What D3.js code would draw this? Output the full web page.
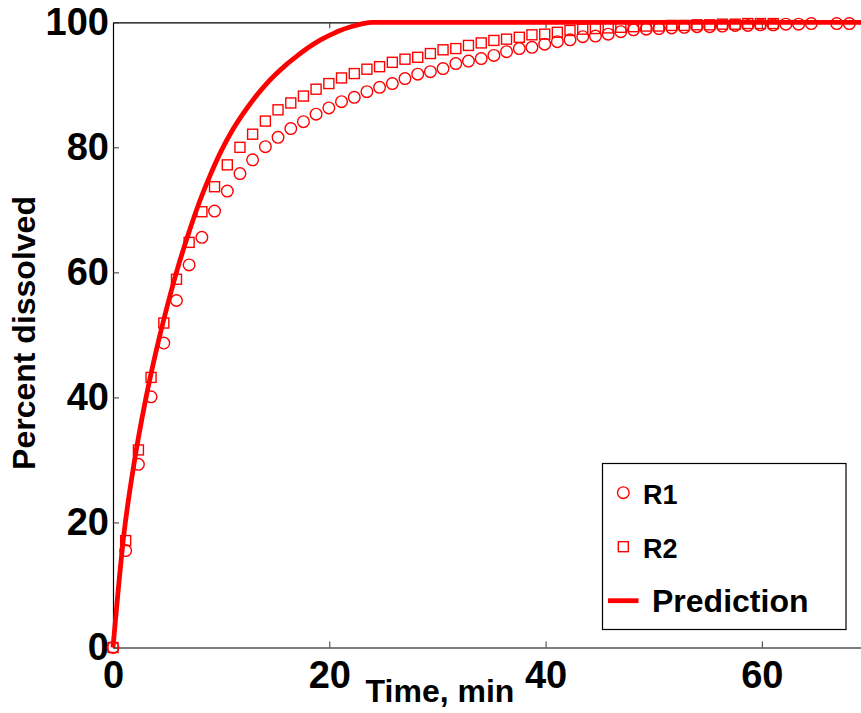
<!DOCTYPE html>
<html><head><meta charset="utf-8">
<script src="https://cdn.jsdelivr.net/npm/d3@7"></script>
<style>
html,body{margin:0;padding:0;background:#fff;}
svg{display:block;font-family:"Liberation Sans",Arial,Helvetica,sans-serif;font-weight:bold;}
</style></head>
<body><svg id="chart" width="861" height="713"></svg>
<script>
// ---- data ----
const times = [0,1.17,2.35,3.52,4.70,5.87,7.04,8.22,9.39,10.57,11.74,12.91,14.09,15.26,16.44,17.61,18.78,19.96,21.13,22.31,23.48,24.65,25.83,27.00,28.18,29.35,30.52,31.70,32.87,34.05,35.22,36.39,37.57,38.74,39.92,41.09,42.26,43.44,44.61,45.79,46.96,48.13,49.31,50.48,51.66,52.83,54.00,55.18,56.35,57.53,58.70,59.87,61.05,62.22,63.40,64.57,65.74,66.92,68.09];
const r1 = [0,15.5,29.3,40.1,48.7,55.5,61.2,65.6,69.8,73.0,75.8,78.0,80.1,81.6,83.0,84.1,85.3,86.3,87.3,88.0,88.9,89.6,90.2,91.0,91.7,92.1,92.6,93.4,93.8,94.2,94.7,95.3,95.8,96.0,96.5,96.9,97.2,97.7,97.8,98.1,98.5,98.8,98.9,99.0,99.1,99.2,99.3,99.3,99.4,99.5,99.5,99.6,99.6,99.7,99.7,99.8,null,99.8,99.8];
const r2 = [0,17.1,31.6,43.2,51.9,58.9,64.8,69.7,73.7,77.2,80.0,82.1,84.2,86.0,87.1,88.2,89.3,90.2,91.1,91.8,92.5,92.9,93.6,94.1,94.4,95.0,95.6,95.8,96.3,96.7,97.1,97.3,97.6,98.0,98.1,98.4,98.7,98.9,99.0,99.1,99.2,99.3,99.4,99.4,99.5,99.5,99.6,99.6,99.7,99.7,99.8,99.8,99.8];
const predT = [0,1,2,3,4,5,6,7,8,9,10,11,12,13,14,15,16,17,18,19,20,21,22,23,24,70];
const predY = [0,18,30,39.5,47.5,54.5,60.8,66.3,71.3,75.6,79.4,82.6,85.3,87.7,89.8,91.6,93.2,94.6,95.9,97.0,97.9,98.7,99.3,99.75,100,100];
const xTicks = [0,20,40,60];
const yTicks = [0,20,40,60,80,100];
const seriesNames = ["R1","R2","Prediction"];
const xLabel = "Time, min";
const yLabel = "Percent dissolved";

const svg = d3.select("#chart");
const red = "#ff0000", ink = "#000";
const x = d3.scaleLinear().domain([0,70]).range([113,870]);
const y = d3.scaleLinear().domain([0,100]).range([647.5,22.3]);

// axes
const gx = svg.append("g").attr("transform",`translate(0,${y(0)})`)
  .call(d3.axisBottom(x).tickValues(xTicks).tickSize(-6).tickSizeOuter(0).tickPadding(14).tickFormat(d3.format("d")));
const gt = svg.append("g").attr("transform",`translate(0,${y(100)})`)
  .call(d3.axisTop(x).tickValues(xTicks).tickSize(-6).tickSizeOuter(0).tickFormat(""));
const gy = svg.append("g").attr("transform",`translate(${x(0)},0)`)
  .call(d3.axisLeft(y).tickValues(yTicks).tickSize(-6).tickSizeOuter(0).tickPadding(4).tickFormat(d3.format("d")));
[gx,gt,gy].forEach(g=>{
  g.selectAll("path.domain").attr("stroke",ink).attr("stroke-width",1.2);
  g.selectAll(".tick line").attr("stroke","#333").attr("stroke-width",1);
  g.selectAll(".tick text").attr("fill",ink).attr("font-size",38).attr("font-family","Liberation Sans, Arial, sans-serif").attr("font-weight","bold");
});

// prediction line
const pred = predT.map((t,i)=>({t, v:predY[i]}));
svg.append("path").datum(pred)
  .attr("fill","none").attr("stroke",red).attr("stroke-width",4.8)
  .attr("stroke-linejoin","round")
  .attr("d", d3.line().x(d=>x(d.t)).y(d=>y(d.v)).curve(d3.curveMonotoneX));

// R2 squares
const s = 10;
svg.append("g").selectAll("rect").data(r2.map((v,i)=>({t:times[i],v})))
  .join("rect")
  .attr("x",d=>x(d.t)-s/2).attr("y",d=>y(d.v)-s/2).attr("width",s).attr("height",s)
  .attr("fill","none").attr("stroke",red).attr("stroke-width",1.4);

// R1 circles
svg.append("g").selectAll("circle").data(r1.map((v,i)=>({t:times[i],v})).filter(d=>d.v!==null))
  .join("circle")
  .attr("cx",d=>x(d.t)).attr("cy",d=>y(d.v)).attr("r",5.8)
  .attr("fill","none").attr("stroke",red).attr("stroke-width",1.4);

// axis labels
svg.append("text").attr("x",440).attr("y",702).attr("text-anchor","middle")
  .attr("font-size",32).attr("fill",ink).text(xLabel);
svg.append("text").attr("transform","translate(35,333) rotate(-90)").attr("text-anchor","middle")
  .attr("font-size",32).attr("fill",ink).text(yLabel);

// legend
const lg = svg.append("g");
lg.append("rect").attr("x",602.5).attr("y",463.5).attr("width",243.5).attr("height",166)
  .attr("fill","#fff").attr("stroke",ink).attr("stroke-width",1.2);
lg.append("circle").attr("cx",623.3).attr("cy",492.7).attr("r",5.8)
  .attr("fill","none").attr("stroke",red).attr("stroke-width",1.4);
lg.append("rect").attr("x",623.3-5).attr("y",546.7-5).attr("width",10).attr("height",10)
  .attr("fill","none").attr("stroke",red).attr("stroke-width",1.4);
lg.append("line").attr("x1",608).attr("x2",638.5).attr("y1",600.7).attr("y2",600.7)
  .attr("stroke",red).attr("stroke-width",4.8);
lg.append("text").attr("x",643).attr("y",504).attr("font-size",27).attr("fill",ink).text(seriesNames[0]);
lg.append("text").attr("x",643).attr("y",558).attr("font-size",27).attr("fill",ink).text(seriesNames[1]);
lg.append("text").attr("x",652).attr("y",612).attr("font-size",32).attr("fill",ink).text(seriesNames[2]);
</script></body></html>
